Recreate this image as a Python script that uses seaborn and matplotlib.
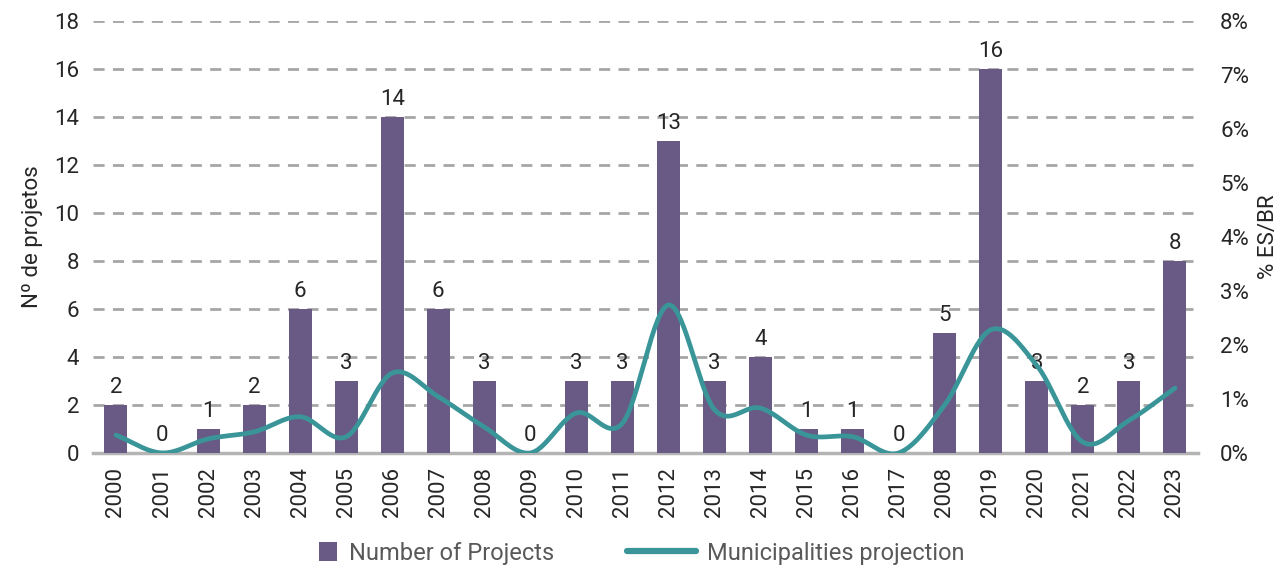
import numpy as np
import pandas as pd
import matplotlib
matplotlib.use("Agg")
import matplotlib.pyplot as plt
import seaborn as sns
from matplotlib.lines import Line2D
from matplotlib.patches import Patch
from matplotlib.ticker import FuncFormatter

# Data
years = ["2000", "2001", "2002", "2003", "2004", "2005", "2006", "2007", "2008", "2009",
         "2010", "2011", "2012", "2013", "2014", "2015", "2016", "2017", "2008", "2019",
         "2020", "2021", "2022", "2023"]
projects = [2, 0, 1, 2, 6, 3, 14, 6, 3, 0, 3, 3, 13, 3, 4, 1, 1, 0, 5, 16, 3, 2, 3, 8]
share_pct = [0.33, 0.0, 0.26, 0.39, 0.67, 0.30, 1.48, 1.04, 0.48, 0.0, 0.74, 0.55, 2.74,
             0.80, 0.83, 0.33, 0.30, 0.0, 0.89, 2.28, 1.62, 0.20, 0.60, 1.20]

BAR = "#695A85"
LINE = "#3A9599"
GRID = "#A6A6A6"
TEXT = "#262626"

sns.set_theme(style="white")
plt.rcParams["font.family"] = ["Roboto", "DejaVu Sans"]
FS = 16


def catmull_rom(y, n=30):
    """Smooth curve through the points (Catmull-Rom spline)."""
    y = np.asarray(y, dtype=float)
    pts = np.concatenate([[2 * y[0] - y[1]], y, [2 * y[-1] - y[-2]]])
    xs, ys = [], []
    for i in range(len(y) - 1):
        p0, p1, p2, p3 = pts[i:i + 4]
        t = np.linspace(0, 1, n, endpoint=False)
        yy = 0.5 * ((2 * p1) + (-p0 + p2) * t + (2 * p0 - 5 * p1 + 4 * p2 - p3) * t ** 2
                    + (-p0 + 3 * p1 - 3 * p2 + p3) * t ** 3)
        xs.append(i + t)
        ys.append(yy)
    xs.append([len(y) - 1])
    ys.append([y[-1]])
    return np.concatenate(xs), np.concatenate(ys)


df = pd.DataFrame({"pos": np.arange(len(years)), "projects": projects})

fig = plt.figure(figsize=(12.84, 5.69), dpi=100)
ax = fig.add_axes([0.0724, 0.204, 0.8606, 0.759])

sns.barplot(data=df, x="pos", y="projects", color=BAR, width=0.5, saturation=1,
            edgecolor="none", linewidth=0, ax=ax, zorder=3)

ax.set_xlim(-0.5, len(years) - 0.5)
ax.set_ylim(0, 18)
ax.set_yticks(range(0, 19, 2))
ax.set_xticks(range(len(years)))
ax.set_xticklabels(years, rotation=90, fontsize=FS, color=TEXT)
ax.tick_params(axis="y", labelsize=FS, labelcolor=TEXT, length=0, pad=10)
ax.tick_params(axis="x", length=0, pad=10)
ax.set_xlabel("")
ax.set_ylabel("Nº de projetos", fontsize=FS, color=TEXT, labelpad=8)

for v in range(2, 19, 2):
    ax.axhline(v, color=GRID, lw=2, ls=(0, (4, 3)), zorder=1)
for s in ["top", "right", "left"]:
    ax.spines[s].set_visible(False)
ax.spines["bottom"].set_color("#B4B4B4")
ax.spines["bottom"].set_linewidth(2.5)
ax.spines["bottom"].set_zorder(2)

for i, v in enumerate(projects):
    ax.annotate(str(v), (i, v), xytext=(0, 5), textcoords="offset points",
                ha="center", va="bottom", fontsize=FS, color=TEXT, zorder=5)

ax2 = ax.twinx()
sx, sy = catmull_rom(share_pct)
sns.lineplot(x=sx, y=sy, ax=ax2, color=LINE, lw=3.4, zorder=4)
ax2.set_ylim(0, 8)
ax2.set_yticks(range(0, 9))
ax2.yaxis.set_major_formatter(FuncFormatter(lambda v, _: f"{int(v)}%"))
ax2.tick_params(axis="y", labelsize=FS, labelcolor=TEXT, length=0, pad=16)
ax2.set_ylabel("% ES/BR", fontsize=FS, color=TEXT, labelpad=6)
for s in ["top", "right", "left", "bottom"]:
    ax2.spines[s].set_visible(False)
ax2.grid(False)

leg_kw = dict(loc="center", ncol=1, frameon=False, fontsize=17,
              labelcolor="#595959", handletextpad=0.5, borderpad=0)
fig.legend([Patch(facecolor=BAR, edgecolor="none")], ["Number of Projects"],
           bbox_to_anchor=(0.340, 0.028), handlelength=0.75, handleheight=0.9, **leg_kw)
fig.legend([Line2D([0], [0], color=LINE, lw=4.5)], ["Municipalities projection"],
           bbox_to_anchor=(0.620, 0.028), handlelength=2.9, **leg_kw)

fig.savefig("out.png", dpi=100)
